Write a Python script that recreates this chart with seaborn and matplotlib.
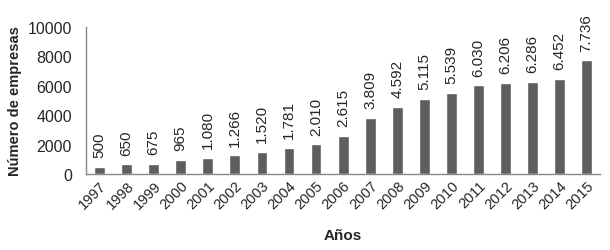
import numpy as np
import pandas as pd
import seaborn as sns
import matplotlib.pyplot as plt

years = [str(y) for y in range(1997, 2016)]
empresas = [500, 650, 675, 965, 1080, 1266, 1520, 1781, 2010, 2615, 3809,
            4592, 5115, 5539, 6030, 6206, 6286, 6452, 7736]

df = pd.DataFrame({'Año': years, 'Empresas': empresas})

sns.set_style('white')
plt.rcParams['font.family'] = ['Liberation Sans', 'DejaVu Sans']

fig = plt.figure(figsize=(6.1, 2.51), dpi=100)
ax = fig.add_axes([0.141, 0.303, 0.843, 0.585])

sns.barplot(data=df, x='Año', y='Empresas', color='#5e5e5e', width=0.4,
            saturation=1, ax=ax)

# value labels, rotated, with dot as thousands separator
for p, v in zip(ax.patches, empresas):
    lbl = f'{v:,}'.replace(',', '.')
    ax.annotate(lbl, (p.get_x() + p.get_width() / 2, p.get_height()),
                xytext=(0, 7), textcoords='offset points',
                ha='center', va='bottom', rotation=90, fontsize=11)

ax.set_ylim(0, 10000)
ax.set_yticks([0, 2000, 4000, 6000, 8000, 10000])
ax.set_xlim(-0.5, len(years) - 0.5)
ax.tick_params(axis='y', labelsize=11.5, length=0, pad=10)
ax.tick_params(axis='x', labelsize=10.5, length=0, pad=3)
plt.setp(ax.get_xticklabels(), rotation=45, ha='right', rotation_mode='anchor')

for s in ['top', 'right']:
    ax.spines[s].set_visible(False)
for s in ['left', 'bottom']:
    ax.spines[s].set_color('#888888')
    ax.spines[s].set_linewidth(1)

ax.set_ylabel('Número de empresas', fontsize=10.5, fontweight='bold', labelpad=4)
ax.set_xlabel('Años', fontsize=11, fontweight='bold', labelpad=12)

fig.savefig('out.png', dpi=100)
